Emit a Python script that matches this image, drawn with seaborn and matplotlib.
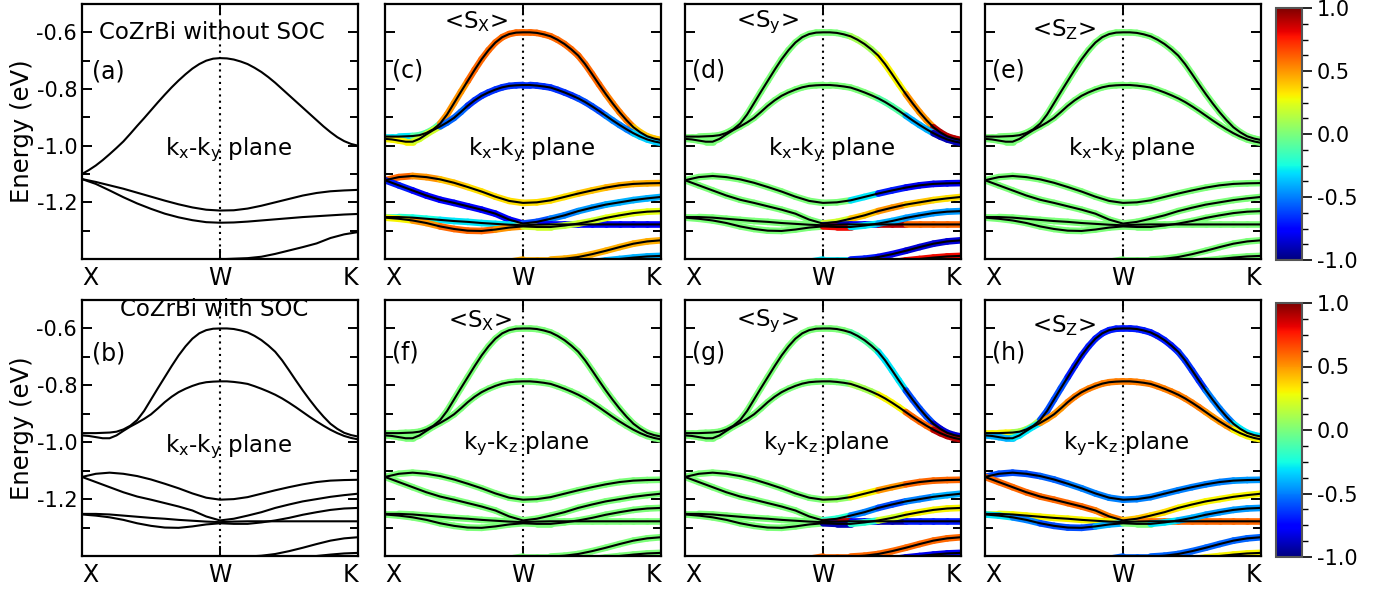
import numpy as np
import pandas as pd
import matplotlib
matplotlib.use("Agg")
import matplotlib.pyplot as plt
import seaborn as sns
from matplotlib.collections import LineCollection
from matplotlib.ticker import MultipleLocator, FormatStrFormatter
from matplotlib.cm import ScalarMappable
from matplotlib.colors import Normalize

# k path X -> W -> K (W in the middle); steep bands are read on a finer grid
k_path = np.linspace(0.0, 1.0, 21)
k_fine = np.linspace(0.0, 1.0, 41)
k_ticks = [0.0, 0.5, 1.0]
k_labels = ["X", "W", "K"]
nan = np.nan

# ---- bands without SOC (eV)
nosoc_1 = [-1.100, -1.086, -1.070, -1.051, -1.030, -1.008, -0.985, -0.958, -0.930, -0.903,
           -0.875, -0.847, -0.820, -0.794, -0.770, -0.748, -0.728, -0.712, -0.700, -0.693,
           -0.691, -0.692, -0.696, -0.703, -0.712, -0.725, -0.740, -0.758, -0.778, -0.800,
           -0.822, -0.844, -0.866, -0.888, -0.910, -0.932, -0.952, -0.970, -0.984, -0.994, -1.000]
nosoc_2 = [-1.118, -1.128, -1.140, -1.152, -1.166, -1.180, -1.194, -1.207, -1.218, -1.226, -1.229,
           -1.228, -1.222, -1.212, -1.200, -1.188, -1.176, -1.167, -1.161, -1.158, -1.156]
nosoc_3 = [-1.118, -1.135, -1.158, -1.182, -1.204, -1.223, -1.240, -1.253, -1.263, -1.270, -1.272,
           -1.271, -1.268, -1.264, -1.260, -1.256, -1.252, -1.249, -1.246, -1.243, -1.241]
nosoc_4 = [nan, nan, nan, nan, nan, nan, nan, nan, nan, -1.410, -1.401,
           -1.399, -1.397, -1.392, -1.382, -1.370, -1.358, -1.345, -1.326, -1.313, -1.305]

# ---- bands with SOC (eV); same bands in (c)-(h)
soc_1 = [-0.968, -0.968, -0.968, -0.967, -0.966, -0.963, -0.955, -0.942, -0.922, -0.890,
         -0.850, -0.810, -0.771, -0.732, -0.695, -0.663, -0.636, -0.617, -0.606, -0.601,
         -0.600, -0.600, -0.602, -0.607, -0.614, -0.626, -0.641, -0.660, -0.682, -0.712,
         -0.747, -0.783, -0.818, -0.851, -0.882, -0.910, -0.935, -0.953, -0.967, -0.975, -0.980]
soc_2 = [-0.976, -0.978, -0.982, -0.986, -0.986, -0.976, -0.960, -0.945, -0.932, -0.918,
         -0.902, -0.881, -0.859, -0.840, -0.824, -0.812, -0.802, -0.794, -0.789, -0.787,
         -0.786, -0.786, -0.788, -0.791, -0.795, -0.803, -0.812, -0.822, -0.833, -0.846,
         -0.861, -0.877, -0.894, -0.911, -0.927, -0.942, -0.956, -0.968, -0.978, -0.985, -0.990]
soc_3 = [-1.122, -1.111, -1.107, -1.111, -1.119, -1.131, -1.146, -1.162, -1.180, -1.195, -1.202,
         -1.200, -1.193, -1.181, -1.169, -1.158, -1.148, -1.140, -1.135, -1.133, -1.132]
soc_4 = [-1.122, -1.140, -1.158, -1.176, -1.191, -1.202, -1.214, -1.226, -1.240, -1.261, -1.275,
         -1.269, -1.258, -1.246, -1.231, -1.219, -1.208, -1.200, -1.192, -1.186, -1.181]
soc_5 = [-1.252, -1.252, -1.254, -1.258, -1.262, -1.266, -1.269, -1.273, -1.276, -1.279, -1.281,
         -1.279, -1.278, -1.278, -1.278, -1.278, -1.278, -1.278, -1.278, -1.278, -1.278]
soc_6 = [-1.254, -1.258, -1.264, -1.273, -1.285, -1.294, -1.300, -1.301, -1.296, -1.289, -1.285,
         -1.287, -1.287, -1.282, -1.275, -1.266, -1.255, -1.246, -1.238, -1.233, -1.231]
soc_7 = [nan, nan, nan, nan, nan, nan, nan, nan, nan, -1.410, -1.402,
         -1.402, -1.402, -1.399, -1.393, -1.383, -1.371, -1.358, -1.346, -1.338, -1.334]
soc_8 = [nan, nan, nan, nan, nan, nan, nan, nan, nan, nan, nan,
         nan, nan, nan, nan, -1.412, -1.405, -1.400, -1.395, -1.391, -1.389]

nosoc_bands = [nosoc_1, nosoc_2, nosoc_3, nosoc_4]
soc_bands = [soc_1, soc_2, soc_3, soc_4, soc_5, soc_6, soc_7, soc_8]

# ---- spin expectation values, one value per 0.1 step of the path, per band
spin_sx_kxky = [[-0.3, -0.1, 0.5, 0.6, 0.6, 0.6, 0.6, 0.6, 0.55, 0.4],
                [0.3, 0.2, -0.55, -0.65, -0.65, -0.65, -0.65, -0.6, -0.5, -0.35],
                [0.6, 0.5, 0.4, 0.35, 0.35, 0.35, 0.35, 0.4, 0.45, 0.45],
                [-0.7, -0.75, -0.75, -0.75, -0.75, -0.6, -0.5, -0.45, -0.4, -0.4],
                [-0.2, -0.25, -0.3, -0.3, -0.3, -0.75, -0.75, -0.75, -0.75, -0.75],
                [0.3, 0.5, 0.6, 0.6, 0.5, 0.2, 0.15, 0.2, 0.25, 0.25],
                [0.45, 0.45, 0.45, 0.45, 0.45, 0.45, 0.45, 0.45, 0.45, 0.45],
                [-0.4, -0.4, -0.4, -0.4, -0.4, -0.4, -0.4, -0.4, -0.4, -0.4]]
spin_sy_kxky = [[0, 0, 0, 0, 0, 0, 0.1, 0.3, 0.5, 0.9],
                [0, 0, 0, 0, 0, 0, 0, -0.1, -0.4, -0.9],
                [0, 0, 0, 0, 0, 0, -0.3, -0.7, -0.8, -0.8],
                [0, 0, 0, 0, 0, 0.2, 0.4, 0.5, 0.4, 0.35],
                [0, 0, 0, 0, 0, -0.9, -0.8, 0.9, 0.6, 0.6],
                [0, 0, 0, 0, 0, 0.8, -0.3, -0.4, -0.45, -0.45],
                [0, 0, 0, 0, -0.3, -0.3, -0.7, -0.8, -0.85, -0.85],
                [0.8, 0.8, 0.8, 0.8, 0.8, 0.8, 0.8, 0.8, 0.8, 0.8]]
spin_sz_kxky = [[0.0] * 10 for _ in range(8)]
spin_sx_kykz = [[0.0] * 10 for _ in range(8)]
spin_sy_kykz = [[0, 0, 0, 0, 0, 0, -0.1, -0.3, -0.6, -0.85],
                [0, 0, 0, 0, 0, 0, 0.1, 0.3, 0.6, 0.9],
                [0, 0, 0, 0, 0, 0.05, 0.3, 0.5, 0.6, 0.6],
                [0, 0, 0, 0, 0, -0.2, -0.5, -0.6, -0.5, -0.4],
                [0, 0, 0, 0, 0, 0.9, -0.8, -0.9, -0.7, -0.7],
                [0, 0, 0, 0, 0, -0.9, -0.2, 0.2, 0.3, 0.3],
                [0.6, 0.6, 0.6, 0.6, 0.6, 0.6, 0.6, 0.6, 0.6, 0.6],
                [-0.8, -0.8, -0.8, -0.8, -0.8, -0.8, -0.8, -0.8, -0.8, -0.8]]
spin_sz_kykz = [[0.3, 0.1, -0.6, -0.7, -0.7, -0.7, -0.7, -0.65, -0.5, -0.3],
                [-0.4, -0.3, 0.5, 0.55, 0.55, 0.55, 0.55, 0.55, 0.5, 0.3],
                [-0.6, -0.6, -0.55, -0.5, -0.5, -0.5, -0.5, -0.5, -0.5, -0.45],
                [0.6, 0.6, 0.6, 0.6, 0.55, 0.4, 0.35, 0.3, 0.3, 0.3],
                [0.25, 0.3, 0.3, 0.3, 0.3, 0.55, 0.6, 0.6, 0.6, 0.6],
                [-0.3, -0.5, -0.6, -0.6, -0.4, 0.0, -0.3, -0.4, -0.45, -0.45],
                [-0.55, -0.55, -0.55, -0.55, -0.55, -0.55, -0.55, -0.55, -0.55, -0.55],
                [0.3, 0.3, 0.3, 0.3, 0.3, 0.3, 0.3, 0.3, 0.3, 0.3]]

sns.set_style("ticks")
plt.rcParams["font.family"] = ["DejaVu Sans"]
plt.rcParams["mathtext.default"] = "regular"
plt.rcParams["axes.unicode_minus"] = False
for key in ["text.color", "axes.labelcolor", "xtick.color", "ytick.color", "axes.edgecolor"]:
    plt.rcParams[key] = "black"

norm = Normalize(-1, 1)
cmap = plt.get_cmap("jet")
FS = 16.5      # annotation text
FS_TICK = 15


def k_for(e):
    return k_fine if len(e) == len(k_fine) else k_path


def band_frame(bands):
    return pd.DataFrame({
        "k": np.concatenate([k_for(b) for b in bands]),
        "E": np.concatenate([np.asarray(b, float) for b in bands]),
        "band": np.concatenate([[i] * len(b) for i, b in enumerate(bands)]),
    })


def draw_panel(ax, bands, spins=None, ylabels=False):
    if spins is not None:
        for e, s in zip(bands, spins):
            kk = k_for(e)
            pts = np.column_stack([kk, e])
            segs = np.stack([pts[:-1], pts[1:]], axis=1)
            lc = LineCollection(segs, cmap=cmap, norm=norm, linewidths=4.8,
                                capstyle="round", zorder=2)
            lc.set_array(np.repeat(np.asarray(s, float), (len(kk) - 1) // 10))
            ax.add_collection(lc)
    sns.lineplot(data=band_frame(bands), x="k", y="E", units="band", estimator=None,
                 sort=False, color="black", lw=1.5, ax=ax, legend=False, zorder=3)
    ax.axvline(0.5, color="black", ls=(0, (1, 2)), lw=1.5, zorder=1)
    ax.set_xlim(0, 1)
    ax.set_ylim(-1.4, -0.5)
    ax.set_xticks(k_ticks)
    ax.set_xticklabels(k_labels, fontsize=17)
    tl = ax.get_xticklabels()
    tl[0].set_ha("left")
    tl[2].set_ha("right")
    ax.set_yticks([-1.2, -1.0, -0.8, -0.6])
    ax.yaxis.set_minor_locator(plt.FixedLocator([-1.3, -1.1, -0.9, -0.7]))
    ax.yaxis.set_major_formatter(FormatStrFormatter("%.1f"))
    ax.tick_params(which="both", direction="in", left=True, right=True, top=True,
                   bottom=True, width=1.4, labelsize=FS_TICK)
    ax.tick_params(which="major", length=7)
    ax.tick_params(which="minor", length=6)
    ax.tick_params(axis="x", pad=5, labelsize=17)
    if ylabels:
        ax.set_ylabel("Energy (eV)", fontsize=17.5, labelpad=2)
    else:
        ax.set_ylabel("")
        ax.set_yticklabels([])
    ax.set_xlabel("")
    for sp in ax.spines.values():
        sp.set_linewidth(1.6)


fig = plt.figure(figsize=(13.93, 5.93), dpi=100)
W, H = 1393, 593
col_left = [82, 385, 685, 985]
pw = 276
rows = [(4, 259), (300, 556)]


def new_ax(col, row):
    top, bot = rows[row]
    return fig.add_axes([col_left[col] / W, 1 - bot / H, pw / W, (bot - top) / H])


plane_xy = "k$_x$-k$_y$ plane"
plane_yz = "k$_y$-k$_z$ plane"

# top row
ax = new_ax(0, 0)
draw_panel(ax, nosoc_bands, ylabels=True)
ax.text(0.47, -0.600, "CoZrBi without SOC", ha="center", va="center", fontsize=FS)
ax.text(0.035, -0.738, "(a)", ha="left", va="center", fontsize=FS + 0.5)
ax.text(0.53, -1.015, plane_xy, ha="center", va="center", fontsize=FS)

top_specs = [(spin_sx_kxky, "<S$_X$>", "(c)", 0.33, -0.563),
             (spin_sy_kxky, "<S$_y$>", "(d)", 0.30, -0.565),
             (spin_sz_kxky, "<S$_Z$>", "(e)", 0.285, -0.590)]
for i, (sp, lab, tag, lx, ly) in enumerate(top_specs):
    ax = new_ax(i + 1, 0)
    draw_panel(ax, soc_bands, sp)
    ax.text(lx, ly, lab, ha="center", va="center", fontsize=FS)
    ax.text(0.025, -0.735, tag, ha="left", va="center", fontsize=FS + 0.5)
    ax.text(0.53, -1.015, plane_xy, ha="center", va="center", fontsize=FS)

# bottom row
ax = new_ax(0, 1)
draw_panel(ax, soc_bands, ylabels=True)
ax.text(0.48, -0.535, "CoZrBi with SOC", ha="center", va="center", fontsize=FS)
ax.text(0.035, -0.688, "(b)", ha="left", va="center", fontsize=FS + 0.5)
ax.text(0.53, -1.015, plane_xy, ha="center", va="center", fontsize=FS)

bot_specs = [(spin_sx_kykz, "<S$_X$>", "(f)", 0.345, -0.573),
             (spin_sy_kykz, "<S$_y$>", "(g)", 0.30, -0.575),
             (spin_sz_kykz, "<S$_Z$>", "(h)", 0.285, -0.590)]
for i, (sp, lab, tag, lx, ly) in enumerate(bot_specs):
    ax = new_ax(i + 1, 1)
    draw_panel(ax, soc_bands, sp)
    ax.text(lx, ly, lab, ha="center", va="center", fontsize=FS)
    ax.text(0.025, -0.685, tag, ha="left", va="center", fontsize=FS + 0.5)
    ax.text(0.51, -1.005, plane_yz, ha="center", va="center", fontsize=FS)

# colour bars
for top, bot in [(8, 260), (303, 557)]:
    cax = fig.add_axes([1276 / W, 1 - bot / H, 26 / W, (bot - top) / H])
    cb = fig.colorbar(ScalarMappable(norm=norm, cmap=cmap), cax=cax)
    cb.set_ticks([-1.0, -0.5, 0.0, 0.5, 1.0])
    cb.ax.yaxis.set_major_formatter(FormatStrFormatter("%.1f"))
    cb.ax.yaxis.set_minor_locator(MultipleLocator(0.125))
    cb.ax.tick_params(which="major", length=7, width=1.2, labelsize=FS_TICK, direction="out")
    cb.ax.tick_params(which="minor", length=4, width=1.0, direction="out")
    cb.outline.set_edgecolor("#555555")
    cb.outline.set_linewidth(1.5)

fig.savefig("out.png", dpi=100)
